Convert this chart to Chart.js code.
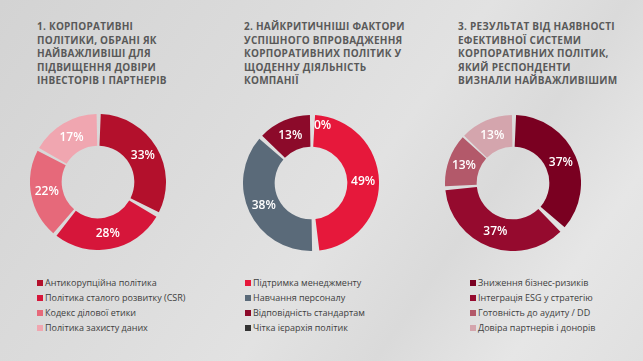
<!DOCTYPE html>
<html>
<head>
<meta charset="utf-8">
<script src="https://cdn.jsdelivr.net/npm/chart.js@4"></script>
<style>
  html, body { margin:0; padding:0; }
  body { width:643px; height:361px; overflow:hidden; position:relative;
    background: linear-gradient(125deg, #d3d3d3 0%, #dcdcdc 35%, #e2e2e2 55%, #dadada 70%, #e6e6e6 85%, #e0e0e0 100%);
    font-family: "Open Sans", sans-serif; }
  .title { position:absolute; top:20px; font-weight:bold; font-size:10px; line-height:13.5px;
    color:#595959; letter-spacing:0.25px; white-space:nowrap; }
  .legend { position:absolute; top:275px; font-size:9px; line-height:15px; color:#404040; white-space:nowrap; }
  .legend .sw { display:inline-block; width:6px; height:6px; margin-right:2px; vertical-align:0px; }
  .cw { position:absolute; width:136px; height:136px; }
</style>
</head>
<body>
<div class="title" id="t1" style="left:37px"></div>
<div class="title" id="t2" style="left:244px"></div>
<div class="title" id="t3" style="left:458px"></div>
<div class="cw" style="left:30px;top:114px"><canvas id="c1"></canvas></div>
<div class="cw" style="left:243px;top:115px"><canvas id="c2"></canvas></div>
<div class="cw" style="left:445px;top:115px"><canvas id="c3"></canvas></div>
<div class="legend" id="l1" style="left:37px"></div>
<div class="legend" id="l2" style="left:245px"></div>
<div class="legend" id="l3" style="left:470px"></div>
<script>
const titles1 = ["1. КОРПОРАТИВНІ", "ПОЛІТИКИ, ОБРАНІ ЯК", "НАЙВАЖЛИВІШІ ДЛЯ", "ПІДВИЩЕННЯ ДОВІРИ", "ІНВЕСТОРІВ І ПАРТНЕРІВ"];
const titles2 = ["2. НАЙКРИТИЧНІШІ ФАКТОРИ", "УСПІШНОГО ВПРОВАДЖЕННЯ", "КОРПОРАТИВНИХ ПОЛІТИК У", "ЩОДЕННУ ДІЯЛЬНІСТЬ", "КОМПАНІЇ"];
const titles3 = ["3. РЕЗУЛЬТАТ ВІД НАЯВНОСТІ", "ЕФЕКТИВНОЇ СИСТЕМИ", "КОРПОРАТИВНИХ ПОЛІТИК,", "ЯКИЙ РЕСПОНДЕНТИ", "ВИЗНАЛИ НАЙВАЖЛИВІШИМ"];

const labels1 = ["Антикорупційна політика", "Політика сталого розвитку (CSR)", "Кодекс ділової етики", "Політика захисту даних"];
const values1 = [33, 28, 22, 17];
const labels2 = ["Підтримка менеджменту", "Навчання персоналу", "Відповідність стандартам", "Чітка ієрархія політик"];
const values2 = [49, 38, 13, 0];
const labels3 = ["Зниження бізнес-ризиків", "Інтеграція ESG у стратегію", "Готовність до аудиту / DD", "Довіра партнерів і донорів"];
const values3 = [37, 37, 13, 13];

const colors1 = ["#b3102c", "#d6163a", "#e6697a", "#f0a6b0"];
const colors2 = ["#e6183b", "#5a6a79", "#8c0a2a", "#333333"];
const colors3 = ["#7a0021", "#950a2e", "#b3596a", "#d4a5ad"];

function setTitle(id, lines) {
  document.getElementById(id).innerHTML = lines.join("<br>");
}
function setLegend(id, labels, colors) {
  const el = document.getElementById(id);
  labels.forEach((l, i) => {
    const row = document.createElement("div");
    const sw = document.createElement("span");
    sw.className = "sw"; sw.style.background = colors[i];
    row.appendChild(sw);
    row.appendChild(document.createTextNode(l));
    el.appendChild(row);
  });
}
setTitle("t1", titles1); setTitle("t2", titles2); setTitle("t3", titles3);
setLegend("l1", labels1, colors1); setLegend("l2", labels2, colors2); setLegend("l3", labels3, colors3);

const pctLabels = {
  id: "pctLabels",
  afterDatasetsDraw(chart) {
    const ctx = chart.ctx;
    const meta = chart.getDatasetMeta(0);
    const data = chart.data.datasets[0].data;
    ctx.save();
    ctx.fillStyle = "#ffffff";
    ctx.font = "600 12px 'Open Sans', sans-serif";
    ctx.textBaseline = "middle";
    meta.data.forEach((arc, i) => {
      const p = arc.tooltipPosition();
      ctx.textAlign = data[i] === 0 ? "left" : "center";
      ctx.fillText(data[i] + "%", data[i] === 0 ? p.x + 3 : p.x, data[i] === 0 ? p.y - 5 : p.y);
    });
    ctx.restore();
  }
};

function makeChart(id, labels, values, colors) {
  new Chart(document.getElementById(id), {
    type: "doughnut",
    data: { labels: labels, datasets: [{ data: values, backgroundColor: colors, borderWidth: 0, spacing: 4 }] },
    options: {
      responsive: false, animation: false, cutout: "52%",
      plugins: { legend: { display: false }, tooltip: { enabled: false } },
      layout: { padding: 0 }
    },
    plugins: [pctLabels]
  });
}
["c1","c2","c3"].forEach(id => { const c = document.getElementById(id); c.width = 136; c.height = 136; });
makeChart("c1", labels1, values1, colors1);
makeChart("c2", labels2, values2, colors2);
makeChart("c3", labels3, values3, colors3);
</script>
</body>
</html>
